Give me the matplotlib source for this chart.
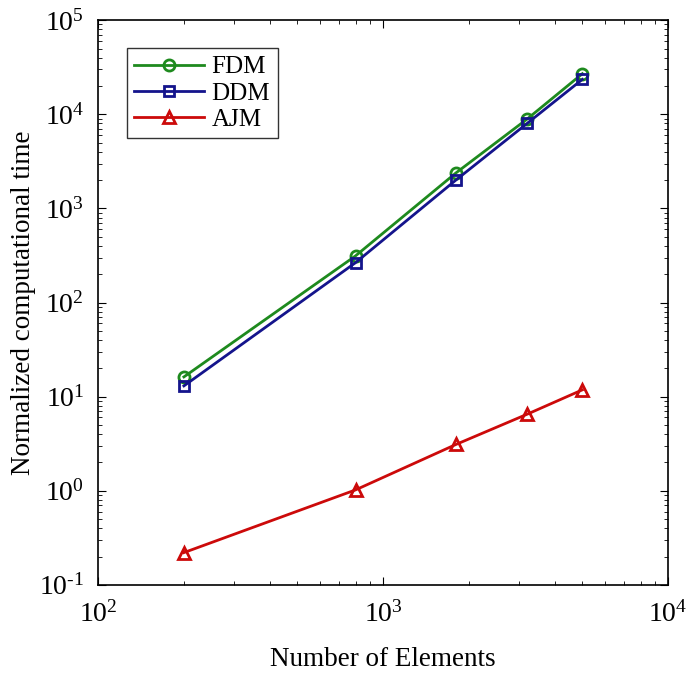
import math
import matplotlib.pyplot as plt
from matplotlib.ticker import FuncFormatter

plt.rcParams['font.family'] = ['Liberation Serif', 'DejaVu Serif']
plt.rcParams['mathtext.fontset'] = 'custom'
plt.rcParams['mathtext.rm'] = 'Liberation Serif'
plt.rcParams['mathtext.it'] = 'Liberation Serif'

elements = [200, 800, 1800, 3200, 5000]
fdm = [16.2, 313, 2380, 8900, 27000]
ddm = [13, 265, 2000, 8000, 23500]
ajm = [0.22, 1.02, 3.1, 6.5, 11.8]

fig = plt.figure(figsize=(6.86, 6.73), dpi=100)
ax = fig.add_axes([0.143, 0.131, 0.831, 0.839])

ax.plot(elements, fdm, color='#1e8a1e', marker='o', mfc='none', mew=2, ms=8, lw=2, label='FDM')
ax.plot(elements, ddm, color='#14148c', marker='s', mfc='none', mew=2, ms=7, lw=2, label='DDM')
ax.plot(elements, ajm, color='#cc0a0a', marker='^', mfc='none', mew=2, ms=9, lw=2, label='AJM')

ax.set_xscale('log')
ax.set_yscale('log')
ax.set_xlim(1e2, 1e4)
ax.set_ylim(1e-1, 1e5)


def pow_fmt(v, pos):
    e = int(round(math.log10(v)))
    return '10$^{\\mathregular{%s}}$' % (str(e).replace('-', '\u2010'))


ax.xaxis.set_major_formatter(FuncFormatter(pow_fmt))
ax.yaxis.set_major_formatter(FuncFormatter(pow_fmt))
ax.tick_params(which='both', direction='in', top=True, right=True, labelsize=20)
ax.tick_params(which='major', length=6)
ax.tick_params(which='minor', length=3)
ax.tick_params(axis='x', pad=12)
ax.tick_params(axis='y', pad=10)
for s in ax.spines.values():
    s.set_linewidth(1.2)

ax.set_xlabel('Number of Elements', fontsize=19.5, labelpad=14)
ax.set_ylabel('Normalized computational time', fontsize=19.5, labelpad=2)

leg = ax.legend(loc='upper left', bbox_to_anchor=(0.05, 0.95), fontsize=18, fancybox=False,
                edgecolor='black', handlelength=2.8, handletextpad=0.3, borderpad=0.3,
                labelspacing=0.15, borderaxespad=0)
leg.get_frame().set_linewidth(1.0)

fig.savefig('out.png', dpi=100)
